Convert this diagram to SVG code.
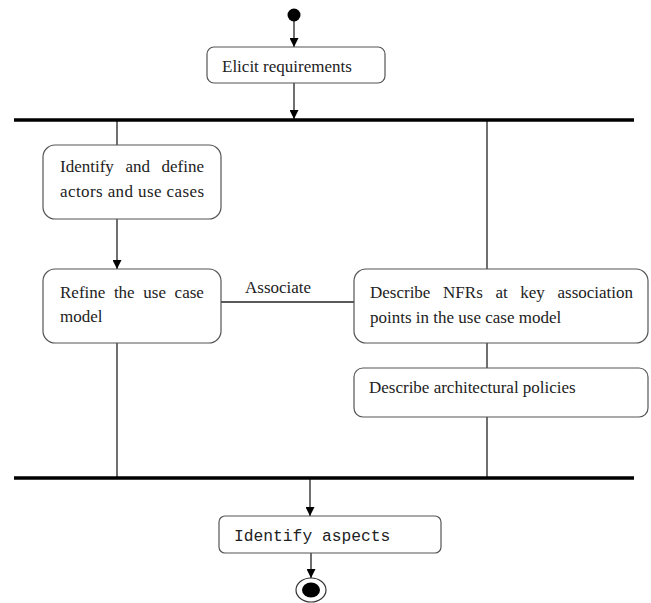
<svg xmlns="http://www.w3.org/2000/svg" width="651" height="603" viewBox="0 0 651 603">
  <style>
    .box { fill: #ffffff; stroke: #555555; stroke-width: 1.2; }
    .lbl { font-family: "Liberation Serif", "Times New Roman", serif; font-size: 17px; fill: #222222; }
    .mono { font-family: "Liberation Mono", "Courier New", monospace; font-size: 16.3px; fill: #222222; }
    .bar { stroke: #000000; stroke-width: 3.5; }
    .edge { stroke: #222222; stroke-width: 1.3; fill: none; }
  </style>
  <defs>
    <marker id="arrow" viewBox="0 0 10 10" refX="10" refY="5" markerWidth="9" markerHeight="9" markerUnits="userSpaceOnUse" orient="auto">
      <path d="M0,0 L10,5 L0,10 Z" fill="#000000"/>
    </marker>
  </defs>
  <rect width="651" height="603" fill="#ffffff"/>

  <!-- connectors -->
  <g id="connectors">
    <line class="edge" x1="294" y1="20" x2="294" y2="47" marker-end="url(#arrow)"/>
    <line class="edge" x1="294" y1="83" x2="294" y2="119" marker-end="url(#arrow)"/>
    <line class="edge" x1="117" y1="121" x2="117" y2="145"/>
    <line class="edge" x1="117" y1="219" x2="117" y2="269" marker-end="url(#arrow)"/>
    <line class="edge" x1="117" y1="343" x2="117" y2="477"/>
    <line class="edge" x1="221" y1="302" x2="354" y2="302"/>
    <text class="lbl" x="245" y="293">Associate</text>
    <line class="edge" x1="487" y1="121" x2="487" y2="269"/>
    <line class="edge" x1="487" y1="343" x2="487" y2="368"/>
    <line class="edge" x1="487" y1="417" x2="487" y2="477"/>
    <line class="edge" x1="310" y1="479" x2="310" y2="516" marker-end="url(#arrow)"/>
    <line class="edge" x1="311" y1="553" x2="311" y2="578" marker-end="url(#arrow)"/>
  </g>

  <!-- start node -->
  <g id="start">
    <circle cx="294" cy="15" r="6.5" fill="#000000"/>
  </g>

  <g id="elicit">
    <rect class="box" x="207" y="47" width="178" height="36" rx="7"/>
    <text class="lbl" x="222" y="72">Elicit requirements</text>
  </g>

  <!-- fork / join bars -->
  <g id="fork">
    <line class="bar" x1="14" y1="120" x2="634" y2="120"/>
  </g>

  <!-- justified two-line labels: first lines set word by word -->
  <g id="identify-actors">
    <rect class="box" x="43" y="145" width="178" height="74" rx="12"/>
    <text class="lbl" y="172"><tspan x="60">Identify</tspan><tspan x="125.4">and</tspan><tspan x="161.5">define</tspan></text>
    <text class="lbl" x="60" y="197" textLength="144" lengthAdjust="spacing">actors and use cases</text>
  </g>

  <g id="refine">
    <rect class="box" x="43" y="269" width="178" height="74" rx="12"/>
    <text class="lbl" y="298"><tspan x="60">Refine</tspan><tspan x="113.9">the</tspan><tspan x="143.3">use</tspan><tspan x="174.6">case</tspan></text>
    <text class="lbl" x="60" y="322">model</text>
  </g>

  <g id="describe-nfrs">
    <rect class="box" x="354" y="269" width="294" height="74" rx="12"/>
    <text class="lbl" y="298"><tspan x="370">Describe</tspan><tspan x="443.1">NFRs</tspan><tspan x="495.4">at</tspan><tspan x="520.3">key</tspan><tspan x="557.5">association</tspan></text>
    <text class="lbl" x="370" y="323">points in the use case model</text>
  </g>

  <g id="describe-policies">
    <rect class="box" x="354" y="368" width="294" height="49" rx="9"/>
    <text class="lbl" x="369" y="393">Describe architectural policies</text>
  </g>

  <g id="join">
    <line class="bar" x1="14" y1="478" x2="634" y2="478"/>
  </g>

  <g id="identify-aspects">
    <rect class="box" x="219" y="516" width="222" height="37" rx="6"/>
    <text class="mono" x="234" y="541">Identify aspects</text>
  </g>

  <!-- final node -->
  <g id="end">
    <ellipse cx="311" cy="590" rx="15" ry="12" fill="#ffffff" stroke="#333333" stroke-width="1.2"/>
    <ellipse cx="311" cy="590" rx="9" ry="7.5" fill="#000000"/>
  </g>
</svg>
